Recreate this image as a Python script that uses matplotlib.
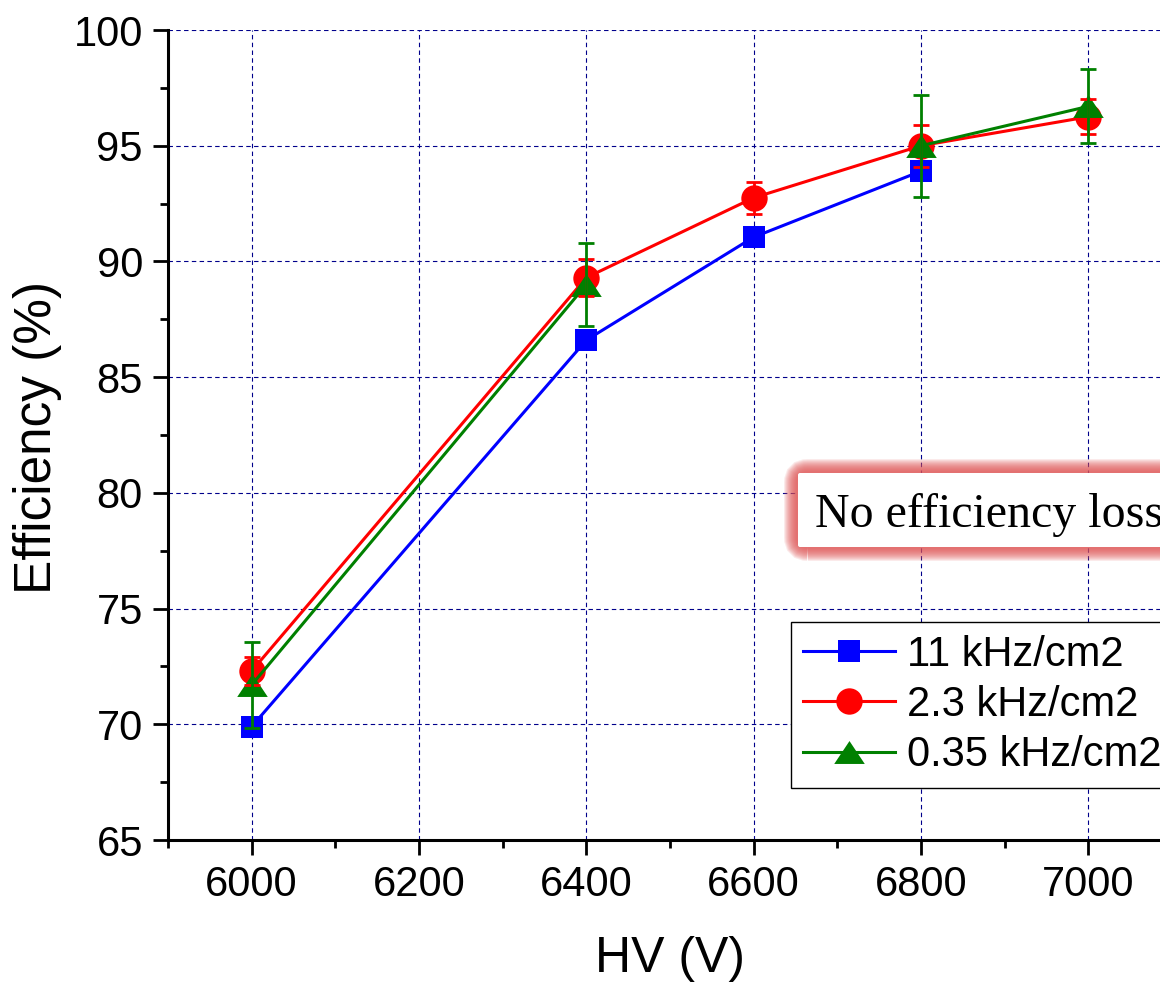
import numpy as np
import matplotlib
matplotlib.use("Agg")
import matplotlib.pyplot as plt
from matplotlib.patches import FancyBboxPatch
from matplotlib.transforms import IdentityTransform
from matplotlib.ticker import MultipleLocator

plt.rcParams['font.family'] = ['Liberation Sans', 'DejaVu Sans']

# High voltage scan points
hv = [6000, 6400, 6600, 6800, 7000]

# Efficiency (%) for each background rate
eff_11 = [69.9, 86.6, 91.05, 93.9, np.nan]
eff_23 = [72.3, 89.3, 92.75, 95.0, 96.25]
err_23 = [0.6, 0.8, 0.7, 0.9, 0.75]
eff_035 = [71.7, 89.0, np.nan, 95.0, 96.7]
err_035 = [1.85, 1.8, np.nan, 2.2, 1.6]

labels = ["11 kHz/cm2", "2.3 kHz/cm2", "0.35 kHz/cm2"]
yticks = [65, 70, 75, 80, 85, 90, 95, 100]
xticks = [6000, 6200, 6400, 6600, 6800, 7000]

W, H, DPI = 1160, 982, 100
fig = plt.figure(figsize=(W / DPI, H / DPI), dpi=DPI)
ax = fig.add_axes([168 / W, 1 - 840 / H, (1172 - 168) / W, 810 / H])

lw = 2.2
tri = [(-1, -0.75), (1, -0.75), (0, 0.75), (-1, -0.75)]

l1, = ax.plot(hv, eff_11, color='#0000ff', lw=lw, marker='s', ms=16.5,
              markeredgewidth=0, zorder=3, label=labels[0])
l2, = ax.plot(hv, eff_23, color='#ff0000', lw=lw, marker='o', ms=19,
              markeredgewidth=0, zorder=3, label=labels[1])
l3, = ax.plot(hv, eff_035, color='#008000', lw=lw, marker=tri, ms=22,
              markeredgewidth=0, zorder=3, label=labels[2])

ax.errorbar(hv, eff_23, yerr=err_23, fmt='none', ecolor='#ff0000',
            elinewidth=2.0, capsize=5.8, capthick=2.0, zorder=4)
ax.errorbar(hv, eff_035, yerr=err_035, fmt='none', ecolor='#008000',
            elinewidth=2.0, capsize=5.8, capthick=2.0, zorder=5)

ax.set_xlim(5900, 7100)
ax.set_ylim(65, 100)
ax.set_xticks(xticks)
ax.set_yticks(yticks)
ax.xaxis.set_minor_locator(MultipleLocator(100))
ax.yaxis.set_minor_locator(MultipleLocator(2.5))

ax.grid(which='major', color='#00008b', linestyle=(0, (4, 3)), linewidth=0.8)
ax.set_axisbelow(True)

for side in ['top', 'right']:
    ax.spines[side].set_visible(False)
for side in ['left', 'bottom']:
    ax.spines[side].set_linewidth(2.2)

ax.tick_params(which='major', direction='out', length=11, width=2.0,
               labelsize=30, pad=7)
ax.tick_params(which='minor', direction='out', length=5.5, width=2.0)

fig.text(670 / W, 1 - 972 / H, "HV (V)", ha='center', va='baseline',
         fontsize=36)
fig.text(38 / W, 1 - 437 / H, "Efficiency (%)", ha='center', va='center',
         rotation=90, fontsize=37)

leg = ax.legend(handles=[l1, l2, l3], loc='upper left',
                bbox_to_anchor=(0.6205, 0.269), borderaxespad=0,
                fontsize=30, frameon=True, fancybox=False, framealpha=1,
                edgecolor='black', handlelength=2.2, handletextpad=0.28,
                labelspacing=0.25, borderpad=0.3)
leg.get_frame().set_linewidth(1.0)
leg.set_zorder(6)

# Annotation box with a soft red glow
bx, by, bw, bh = 798, H - 547, 700, 74
for k, glw in enumerate(range(28, 2, -2)):
    glow = FancyBboxPatch((bx, by), bw, bh,
                          boxstyle="round,pad=0,rounding_size=10",
                          transform=IdentityTransform(), facecolor='none',
                          edgecolor='#e05555', linewidth=glw * 0.72,
                          alpha=0.12, zorder=7)
    fig.patches.append(glow)
inner = FancyBboxPatch((bx, by), bw, bh,
                       boxstyle="round,pad=0,rounding_size=2",
                       transform=IdentityTransform(), facecolor='white',
                       edgecolor='none', zorder=8)
fig.patches.append(inner)
fig.text(815 / W, 1 - 527 / H, "No efficiency loss", ha='left',
         va='baseline', fontsize=34.5, family=['Liberation Serif'], zorder=9)

fig.savefig("out.png", dpi=DPI)
